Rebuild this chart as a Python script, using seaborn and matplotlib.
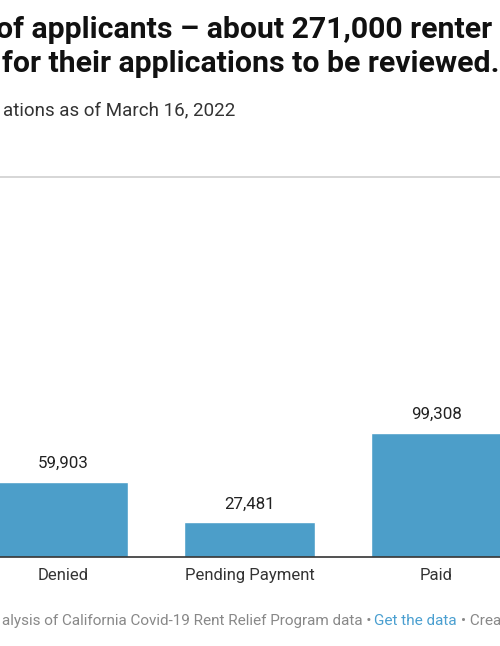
import matplotlib
matplotlib.use("Agg")
import matplotlib.pyplot as plt
import seaborn as sns
import pandas as pd

# ==========================================
# Data (visible part of the chart)
# ==========================================

statuses = ["Denied", "Pending Payment", "Paid"]
applications = [59903, 27481, 99308]

title_line1 = "of applicants – about 271,000 renter"
title_line2 = "for their applications to be reviewed."
subtitle = "ations as of March 16, 2022"
source_text = "alysis of California Covid-19 Rent Relief Program data •"
link_text = "Get the data"
credit_text = "• Created with Datawrapper"

bar_color = "#4c9ec9"

sns.set_theme(style="white")
plt.rcParams["font.family"] = ["Roboto", "DejaVu Sans"]

df = pd.DataFrame({"status": statuses, "applications": applications})

W, H = 500, 646
fig = plt.figure(figsize=(W / 100, H / 100), dpi=100)

# axes: baseline at y=556.7 px, top line at y=176.7 px, full width
ax_bottom = (H - 556.7) / H
ax_top = (H - 176.7) / H
ax = fig.add_axes([0, ax_bottom, 1, ax_top - ax_bottom])

sns.barplot(
    data=df,
    x="status",
    y="applications",
    color=bar_color,
    width=0.70,
    saturation=1,
    ax=ax
)

px_per_cat = 186.5
left_center = 63.0
ax.set_xlim(-left_center / px_per_cat, (W - left_center) / px_per_cat)
ax.set_ylim(0, 380 * 803)

for spine in ["left", "right"]:
    ax.spines[spine].set_visible(False)
ax.spines["top"].set_color("#d0d0d0")
ax.spines["top"].set_linewidth(1.2)
ax.spines["bottom"].set_color("#333333")
ax.spines["bottom"].set_linewidth(1.2)

ax.set_yticks([])
ax.set_xlabel("")
ax.set_ylabel("")
ax.tick_params(axis="x", length=0, pad=8, labelsize=12, labelcolor="#333333")

for i, value in enumerate(applications):
    ax.annotate(
        f"{value:,}",
        xy=(i, value),
        xytext=(0, 8),
        textcoords="offset points",
        ha="center",
        va="bottom",
        fontsize=12.2,
        color="#222222"
    )

# ==========================================
# Header and footer
# ==========================================

fig.text(492 / W, 1 - 38 / H, title_line1, ha="right", va="baseline",
         fontsize=21.8, fontweight="bold", color="#111111")
fig.text(499 / W, 1 - 72 / H, title_line2, ha="right", va="baseline",
         fontsize=21.8, fontweight="bold", color="#111111")
fig.text(235 / W, 1 - 115 / H, subtitle, ha="right", va="baseline",
         fontsize=13.5, color="#333333")

footer_y = 1 - 625 / H
fig.text(371 / W, footer_y, source_text, ha="right", va="baseline",
         fontsize=11, color="#888888")
fig.text(374 / W, footer_y, link_text, ha="left", va="baseline",
         fontsize=11, color="#4a9fd0")
fig.text(461 / W, footer_y, credit_text, ha="left", va="baseline",
         fontsize=11, color="#888888")

fig.savefig("out.png", dpi=100)
